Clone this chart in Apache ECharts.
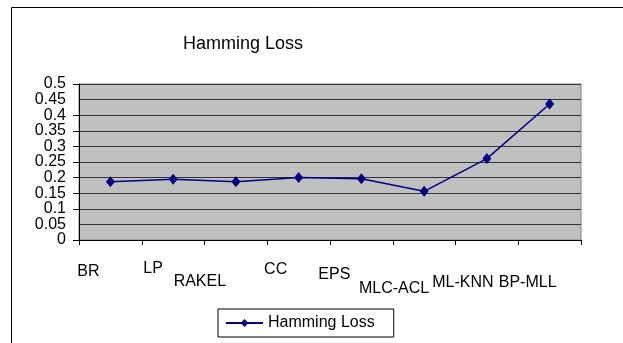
<!DOCTYPE html>
<html><head><meta charset="utf-8">
<script src="https://cdn.jsdelivr.net/npm/echarts@6/dist/echarts.min.js"></script>
<style>html,body{margin:0;padding:0;background:#fff}#c{width:623px;height:343px}</style>
</head><body><div id="c"></div>
<script>
const categories = ['BR','LP','RAKEL','CC','EPS','MLC-ACL','ML-KNN','BP-MLL'];
const hammingLoss = [0.187, 0.195, 0.187, 0.200, 0.196, 0.156, 0.261, 0.436];
const yTicks = { min: 0, max: 0.5, interval: 0.05 };
const yTickLabels = ['0','0.05','0.1','0.15','0.2','0.25','0.3','0.35','0.4','0.45','0.5'];

// label stagger styling (Excel-like), [padTop, padRight]
const labelShift = [[6,44],[0,40],[26,72],[2,46],[12,54],[40,60],[28,48],[28,44]];
const rich = {};
labelShift.forEach((s,i)=>{ rich['s'+i] = {padding:[s[0], s[1], 0, 0], fontSize:16, lineHeight:16, fontFamily:'Liberation Sans, Arial', color:'#000'}; });

const yLabelStyle = { fontFamily:'Liberation Sans, Arial', fontSize:16, color:'#000' };
const labelAt = (v) => yTickLabels[Math.round(v / yTicks.interval)];

const chart = echarts.init(document.getElementById('c'), null, {renderer:'canvas'});
chart.setOption({
  animation:false,
  backgroundColor:'#fff',
  title:{ text:'Hamming Loss', left:178, top:30, padding:5,
    textStyle:{fontFamily:'Liberation Sans, Arial', fontSize:18, fontWeight:'normal', color:'#000'} },
  graphic:[{ type:'polyline', shape:{points:[[11.5,343],[11.5,7.5],[623,7.5]]}, style:{fill:null, stroke:'#000', lineWidth:1}, silent:true, z:-1 }],
  grid:{ left:79, right:42, top:84, bottom:103, show:true, backgroundColor:'#c0c0c0', borderColor:'#808080', borderWidth:1 },
  legend:{ left:218, top:309, padding:[6,19,6,7], borderColor:'#000', borderWidth:1, itemWidth:37, itemHeight:10, itemGap:5,
    textStyle:{fontFamily:'Liberation Sans, Arial', fontSize:16, color:'#000'} , data:['Hamming Loss']},
  xAxis:{ type:'category', data:categories, boundaryGap:true,
    axisLine:{lineStyle:{color:'#000', width:1}},
    axisTick:{show:true, length:5, lineStyle:{color:'#000'}},
    axisLabel:{ interval:0, margin:21, align:'center', verticalAlign:'top', hideOverlap:false,
      formatter:(v,i)=>'{s'+i+'|'+v+'}', rich:rich },
    splitLine:{show:false} },
  yAxis:[{ type:'value', min:yTicks.min, max:yTicks.max, interval:yTicks.interval,
    axisLine:{show:true, lineStyle:{color:'#000'}},
    axisTick:{show:true, length:6, lineStyle:{color:'#000'}},
    axisLabel:Object.assign({ margin:13, showMinLabel:true, showMaxLabel:true, formatter:labelAt }, yLabelStyle),
    splitLine:{show:true, lineStyle:{color:'#333', width:1}} },
  { type:'value', position:'left', offset:0, min:yTicks.min, max:yTicks.max, interval:yTicks.interval,
    axisLine:{show:false}, axisTick:{show:false}, splitLine:{show:false},
    axisLabel:Object.assign({ margin:13, showMinLabel:false, showMaxLabel:false,
      formatter:(v)=>{ const s = labelAt(v); return (s==='0.05'||s==='0.45') ? s : ''; } }, yLabelStyle) }],
  series:[{ name:'Hamming Loss', type:'line', data:hammingLoss, symbol:'diamond', symbolSize:[9,11],
    lineStyle:{color:'#000080', width:1.5}, itemStyle:{color:'#000080'} }]
});
</script></body></html>
